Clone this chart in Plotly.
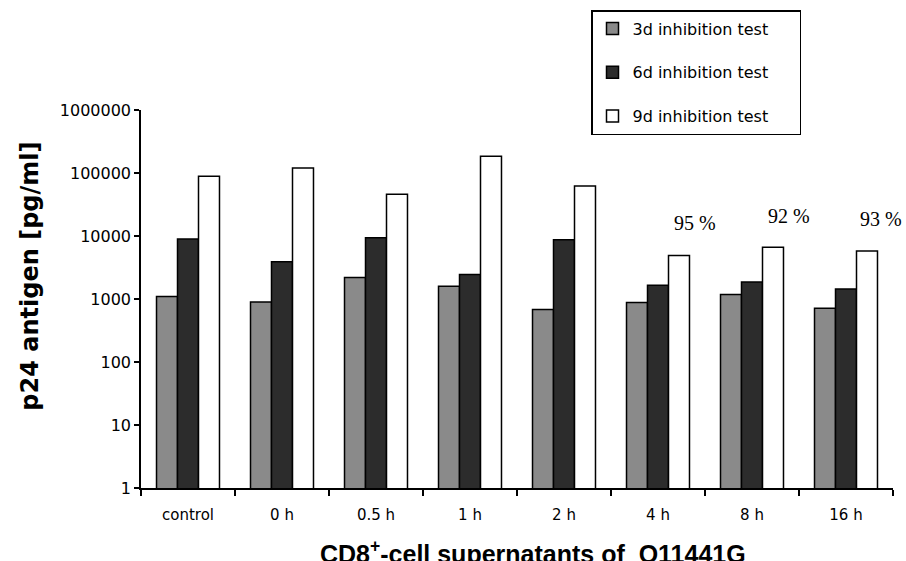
import plotly.graph_objects as go

categories = ["control", "0 h", "0.5 h", "1 h", "2 h", "4 h", "8 h", "16 h"]
series_names = ["3d inhibition test", "6d inhibition test", "9d inhibition test"]
test_3d = [1100, 900, 2200, 1600, 680, 880, 1180, 710]
test_6d = [9000, 3900, 9400, 2450, 8700, 1650, 1860, 1440]
test_9d = [89000, 120000, 46000, 185000, 62000, 4900, 6600, 5800]
pct_labels = ["95 %", "92 %", "93 %"]
pct_x = [5.39, 6.39, 7.37]
pct_logy = [4.21, 4.315, 4.27]
y_tickvals = [1, 10, 100, 1000, 10000, 100000, 1000000]
y_ticktext = ["1", "10", "100", "1000", "10000", "100000", "1000000"]

colors = ["#8a8a8a", "#2c2c2c", "#ffffff"]
values = [test_3d, test_6d, test_9d]
pad = "\u00a0" * 5

fig = go.Figure()
for i, (name, vals) in enumerate(zip(series_names, values)):
    fig.add_trace(go.Bar(
        x=categories, y=vals, name=name + pad,
        marker=dict(color=colors[i], line=dict(color="black", width=1.5)),
        legendgroup=f"g{i}",
    ))

for t, x, y in zip(pct_labels, pct_x, pct_logy):
    fig.add_annotation(x=x, y=y, xref="x", yref="y", text=t, showarrow=False,
                       font=dict(family="Liberation Serif", size=20, color="black"),
                       xanchor="center", yanchor="middle")

fig.add_annotation(x=-0.148, y=0.561, xref="paper", yref="paper",
                   text="p24 antigen [pg/ml]", textangle=-90, showarrow=False,
                   font=dict(family="DejaVu Sans", size=24, color="black", weight="bold"),
                   xanchor="center", yanchor="middle")
fig.add_annotation(x=(533 - 141) / 752, y=(488 - 552) / 378, xref="paper", yref="paper",
                   text="CD8<sup>+</sup>-cell supernatants of  O11441G", showarrow=False,
                   font=dict(family="Liberation Sans", size=25, color="black", weight="bold"),
                   xanchor="center", yanchor="middle")

fig.update_layout(
    width=906, height=561,
    margin=dict(l=141, r=13, t=110, b=73, autoexpand=False),
    paper_bgcolor="white", plot_bgcolor="white",
    barmode="group", bargap=0.33, bargroupgap=0,
    font=dict(family="DejaVu Sans", size=16, color="black"),
    showlegend=True,
    legend=dict(
        x=(591 - 141) / 752, y=(488 - 10) / 378, xanchor="left", yanchor="top",
        bordercolor="black", borderwidth=1.5, bgcolor="white",
        font=dict(family="DejaVu Sans", size=16, color="black"),
        tracegroupgap=20, traceorder="grouped",
    ),
    xaxis=dict(
        type="category", showline=True, linecolor="black", linewidth=2,
        ticks="outside", ticklen=6, tickwidth=1.5, tickcolor="black",
        tickson="boundaries", showgrid=False, zeroline=False,
        tickfont=dict(family="DejaVu Sans", size=15, color="black"),
        ticklabelstandoff=12,
        range=[-0.5, 7.5],
    ),
    yaxis=dict(
        type="log", range=[0, 6], showline=True, linecolor="black", linewidth=1.5,
        ticks="outside", ticklen=5, tickwidth=1.5, tickcolor="black",
        tickvals=y_tickvals, ticktext=y_ticktext, showgrid=False, zeroline=False,
        tickfont=dict(family="DejaVu Sans", size=16, color="black"),
    ),
)

fig.write_html("out.html", config={"displayModeBar": False},
               post_script="document.body.style.margin='0';")
